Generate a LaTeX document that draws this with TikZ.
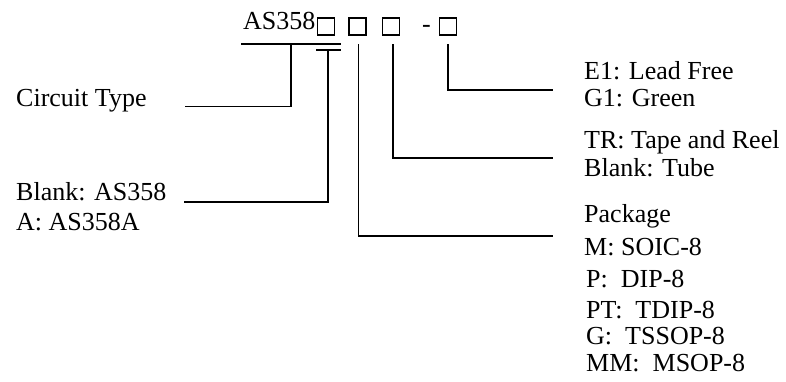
\documentclass[tikz,border=0pt]{standalone}
\usepackage{fontspec}
\setmainfont{Liberation Serif}
\begin{document}
\begin{tikzpicture}[x=1pt,y=-1pt,
  lbl/.style={anchor=base west,inner sep=0pt,font=\fontsize{26}{30}\selectfont},
  slot/.style={draw,line width=1.4pt,minimum width=17pt,minimum height=17pt,inner sep=0pt},
  wire/.style={line width=1.8pt}]
\useasboundingbox (0,0) rectangle (786,381);
% part number
\node[lbl] (title) at (243,29) {AS358};
\node[slot] (b1) at (326,26.5) {};
\node[slot] (b2) at (357.5,26.5) {};
\node[slot] (b3) at (391,26.5) {};
\node[lbl] (dash) at (422,32) {-};
\node[slot] (b4) at (448,26.5) {};
% labels left
\node[lbl] (ct) at (16,106) {Circuit Type};
\node[lbl] (bl1) at (16,200) {Blank: AS358};
\node[lbl] (bl2) at (16,230) {A: AS358A};
% labels right
\node[lbl] (e1) at (584,79) {E1: Lead Free};
\node[lbl] (g1) at (584,106) {G1: Green};
\node[lbl] (tr) at (584,148) {TR: Tape and Reel};
\node[lbl] (tu) at (584,176) {Blank: Tube};
\node[lbl] (pk) at (584,222) {Package};
\node[lbl] (pm) at (584,255) {M: SOIC-8};
\node[lbl] (pp) at (586,287) {P:\ \ DIP-8};
\node[lbl] (ppt) at (586,318) {PT:\ \ TDIP-8};
\node[lbl] (pg) at (586,344) {G:\ \ TSSOP-8};
\node[lbl] (pmm) at (586,371) {MM:\ \ MSOP-8};
% connector points
\coordinate (topL) at (241,44);
\coordinate (topR) at (341,44);
\coordinate (j1) at (291,44);
\coordinate (ctEnd) at (185,106.5);
\coordinate (tL) at (316,50);
\coordinate (tR) at (341,50);
\coordinate (j2) at (328,50);
\coordinate (blEnd) at (184,202);
\coordinate (j3) at (358.5,44);
\coordinate (pkEnd) at (553,236);
\coordinate (j4) at (393,44);
\coordinate (trEnd) at (553,158);
\coordinate (j5) at (447.7,44);
\coordinate (e1End) at (553,90);
% connectors
\draw[wire] (topL) -- (topR);
\draw[wire] (j1) |- (ctEnd);
\draw[wire] (tL) -- (tR);
\draw[wire] (j2) |- (blEnd);
\draw[wire] (j3) |- (pkEnd);
\draw[wire] (j4) |- (trEnd);
\draw[wire] (j5) |- (e1End);
\end{tikzpicture}
\end{document}
